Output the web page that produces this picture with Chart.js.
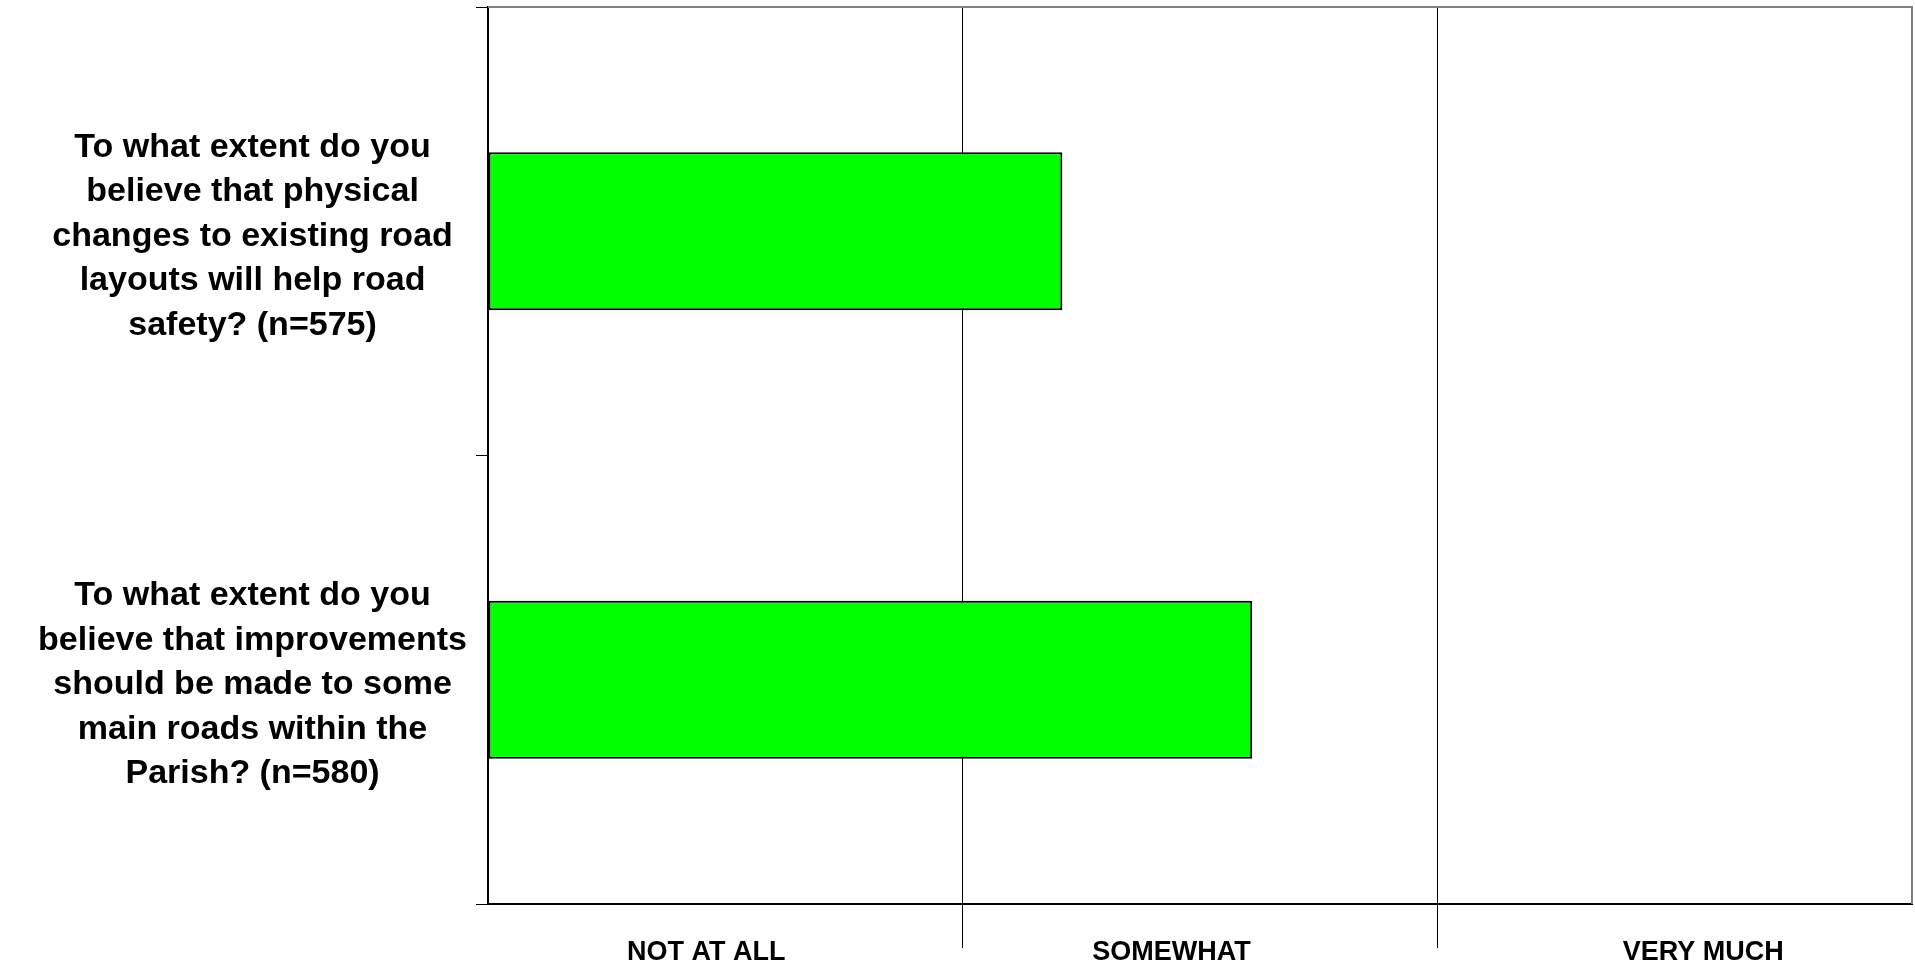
<!DOCTYPE html>
<html>
<head>
<meta charset="utf-8">
<title>Road safety questions</title>
<script src="https://cdn.jsdelivr.net/npm/chart.js@4/dist/chart.umd.min.js"></script>
<style>
  html, body { margin: 0; padding: 0; background: #fff; }
  canvas { display: block; }
</style>
</head>
<body>
<canvas id="chart" width="1915" height="964"></canvas>
<script>
// Questions (one bar each), read top to bottom
const QUESTIONS = [
  ['To what extent do you', 'believe that physical', 'changes to existing road', 'layouts will help road', 'safety? (n=575)'],
  ['To what extent do you', 'believe that improvements', 'should be made to some', 'main roads within the', 'Parish? (n=580)'],
];

// Mean position on the response scale (0 = left edge, 3 = right edge)
const SCORES = [1.21, 1.61];

// Response labels along the bottom and where they sit on the scale
const RESPONSES = ['NOT AT ALL', 'SOMEWHAT', 'VERY MUCH'];
const RESPONSE_TICKS = [0.46, 1.44, 2.56];

// Column separators
const EDGE_TICKS = [0, 1, 2, 3];

const FONT = "'Liberation Sans', Arial, sans-serif";

// White background plus the grey frame on top and right of the plot
const framePlugin = {
  id: 'frame',
  beforeDraw(chart) {
    const ctx = chart.ctx;
    ctx.save();
    ctx.fillStyle = '#ffffff';
    ctx.fillRect(0, 0, chart.width, chart.height);
    ctx.restore();
  },
  afterDraw(chart) {
    const { ctx, chartArea } = chart;
    ctx.save();
    ctx.strokeStyle = '#808080';
    ctx.lineWidth = 2;
    ctx.beginPath();
    ctx.moveTo(chartArea.left, chartArea.top);
    ctx.lineTo(chartArea.right, chartArea.top);
    ctx.lineTo(chartArea.right, chartArea.bottom);
    ctx.stroke();
    ctx.restore();
  },
};

const isEdge = (v) => v === EDGE_TICKS[0] || v === EDGE_TICKS[EDGE_TICKS.length - 1];
const isSeparator = (v) => EDGE_TICKS.includes(v);

// Drop the extra room Chart.js keeps for overhanging labels
function noPadding(scale) {
  scale.paddingTop = 0;
  scale.paddingBottom = 0;
  scale.paddingLeft = 0;
  scale.paddingRight = 0;
}

new Chart(document.getElementById('chart'), {
  type: 'bar',
  data: {
    labels: QUESTIONS,
    datasets: [
      {
        data: SCORES,
        backgroundColor: '#00ff00',
        borderColor: '#000000',
        borderWidth: 2,
        borderSkipped: false,
        barPercentage: 0.352,
        categoryPercentage: 1,
      },
    ],
  },
  plugins: [framePlugin],
  options: {
    indexAxis: 'y',
    responsive: false,
    animation: false,
    layout: { padding: { top: 7, right: 3, left: 0, bottom: 0 } },
    plugins: {
      legend: { display: false },
      tooltip: { enabled: false },
    },
    scales: {
      x: {
        type: 'linear',
        min: EDGE_TICKS[0],
        max: EDGE_TICKS[EDGE_TICKS.length - 1],
        afterBuildTicks: (scale) => {
          scale.ticks = EDGE_TICKS.concat(RESPONSE_TICKS)
            .sort((a, b) => a - b)
            .map((v) => ({ value: v }));
        },
        afterFit: (scale) => {
          scale.height = 60;
          noPadding(scale);
        },
        grid: {
          color: (c) => {
            const v = c.tick ? c.tick.value : null;
            if (v === null || !isSeparator(v)) return 'transparent';
            return isEdge(v) ? '#808080' : '#000000';
          },
          tickColor: (c) => {
            const v = c.tick ? c.tick.value : null;
            if (v === null || !isSeparator(v) || isEdge(v)) return 'transparent';
            return '#000000';
          },
          lineWidth: 1,
          tickLength: 44,
        },
        border: { display: true, color: '#000000', width: 2 },
        ticks: {
          autoSkip: false,
          maxRotation: 0,
          padding: -12,
          color: '#000000',
          font: { family: FONT, size: 27, weight: 'bold' },
          callback: (value) => {
            const i = RESPONSE_TICKS.indexOf(value);
            return i >= 0 ? RESPONSES[i] : '';
          },
        },
      },
      y: {
        type: 'category',
        offset: true,
        afterFit: (scale) => {
          scale.width = 488;
          noPadding(scale);
        },
        grid: {
          offset: true,
          drawOnChartArea: false,
          color: '#000000',
          tickLength: 12,
        },
        border: { display: true, color: '#000000', width: 2 },
        ticks: {
          crossAlign: 'center',
          padding: 9,
          labelOffset: 5,
          color: '#000000',
          font: { family: FONT, size: 34, weight: 'bold', lineHeight: 1.31 },
        },
      },
    },
  },
});
</script>
</body>
</html>
